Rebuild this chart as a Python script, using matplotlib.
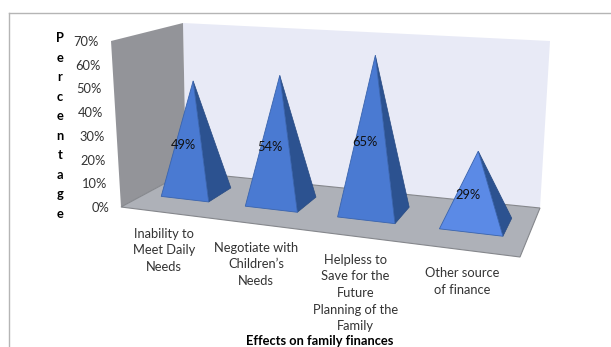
import numpy as np
import matplotlib
matplotlib.use("Agg")
import matplotlib.pyplot as plt
from matplotlib.patches import Polygon

categories = ["Inability to\nMeet Daily\nNeeds", "Negotiate with\nChildren’s\nNeeds",
              "Helpless to\nSave for the\nFuture\nPlanning of the\nFamily", "Other source\nof finance"]
values = [49, 54, 65, 29]
ticks = [0, 10, 20, 30, 40, 50, 60, 70]
ylabel = "Percentage"
xlabel = "Effects on family finances"

# Projection of the 3D box: floor corners (front-left, front-right, back-right, back-left)
# and three corners of the 70% plane, in canvas units
FLOOR = [(121, 207), (520, 257), (540, 208), (186, 172)]
TOP = {(0, 0): (111, 41), (1, 1): (550, 41), (0, 1): (183, 23)}
YMAX = 70.0


def floor_homography(corners):
    src = [(0, 0), (1, 0), (1, 1), (0, 1)]
    rows, rhs = [], []
    for (u, v), (x, y) in zip(src, corners):
        rows.append([u, v, 1, 0, 0, 0, -u * x, -v * x]); rhs.append(x)
        rows.append([0, 0, 0, u, v, 1, -u * y, -v * y]); rhs.append(y)
    return np.append(np.linalg.solve(np.array(rows, float), np.array(rhs, float)), 1).reshape(3, 3)


H_FLOOR = floor_homography(FLOOR)
W = H_FLOOR[2]

# The top plane shares the floor's perspective divisor, so verticals stay straight
uvs = list(TOP)
A_top = np.array([[u, v, 1] for u, v in uvs], float)
wt = np.array([W @ [u, v, 1] for u, v in uvs])
H_TOP = np.vstack([
    np.linalg.solve(A_top, wt * np.array([TOP[k][0] for k in uvs], float)),
    np.linalg.solve(A_top, wt * np.array([TOP[k][1] for k in uvs], float)),
    W,
])


def project(u, v, val=0.0):
    a = H_FLOOR @ [u, v, 1]
    b = H_TOP @ [u, v, 1]
    t = val / YMAX
    return (1 - t) * a[:2] / a[2] + t * b[:2] / b[2]


fig = plt.figure(figsize=(6.11, 3.47), dpi=100)
ax = fig.add_axes([0, 0, 1, 1])
ax.set_xlim(0, 611)
ax.set_ylim(347, 0)
ax.axis("off")
plt.rcParams["font.family"] = ["Lato", "DejaVu Sans"]

# Frame of the chart area
ax.plot([8.5, 611], [12.5, 12.5], color="#b5b5b5", lw=1)
ax.plot([8.5, 8.5], [12.5, 347], color="#b5b5b5", lw=1)

# Walls and floor
ax.add_patch(Polygon([project(0, 1), project(1, 1), project(1, 1, YMAX), project(0, 1, YMAX)],
                     fc="#e8eaf6", ec="none"))
ax.add_patch(Polygon([project(0, 0), project(0, 1), project(0, 1, YMAX), project(0, 0, YMAX)],
                     fc="#939499", ec="none"))
ax.add_patch(Polygon([project(0, 0), project(1, 0), project(1, 1), project(0, 1)],
                     fc="#aeb1b8", ec="#85878c", lw=0.8))

# Pyramids, one per category
n = len(values)
half_u, half_v = 0.072, 0.19
for i, val in enumerate(values):
    u = (i + 0.5) / n
    v = 0.52
    base_fl = project(u - half_u, v - half_v)
    base_fr = project(u + half_u, v - half_v)
    base_br = project(u + half_u, v + half_v)
    apex = project(u, v, val)
    front = "#5b8ae6" if val < 40 else "#4a7ad2"
    ax.add_patch(Polygon([apex, base_fr, base_br], fc="#2c5290", ec="#274a82", lw=0.5))
    ax.add_patch(Polygon([apex, base_fl, base_fr], fc=front, ec="#3a64ad", lw=0.6))
    mid = (apex + (base_fl + base_br) / 2) / 2
    ax.text(apex[0] - 10, mid[1] + 8, f"{val}%", ha="center", va="center", fontsize=9.3, color="#111111")

# Value axis
for t in ticks:
    p = project(0, 0, t)
    ax.text(p[0] - 12, p[1] + 1, f"{t}%", ha="right", va="center", fontsize=9.3, color="#333333")
for k, ch in enumerate(ylabel):
    ax.text(60, 38 + k * 19.5, ch, ha="center", va="center", fontsize=9.3, fontweight="bold", color="black")

# Category labels, stepping down along the front edge
label_x = [164, 256, 355.5, 462]
label_top = [228, 242, 254, 267]
for cat, x, y in zip(categories, label_x, label_top):
    ax.text(x, y, cat, ha="center", va="top", fontsize=9.3, color="#333333", linespacing=1.45)
ax.text(320, 341, xlabel, ha="center", va="center", fontsize=9.3, fontweight="bold", color="black")

fig.savefig("out.png", dpi=100)
